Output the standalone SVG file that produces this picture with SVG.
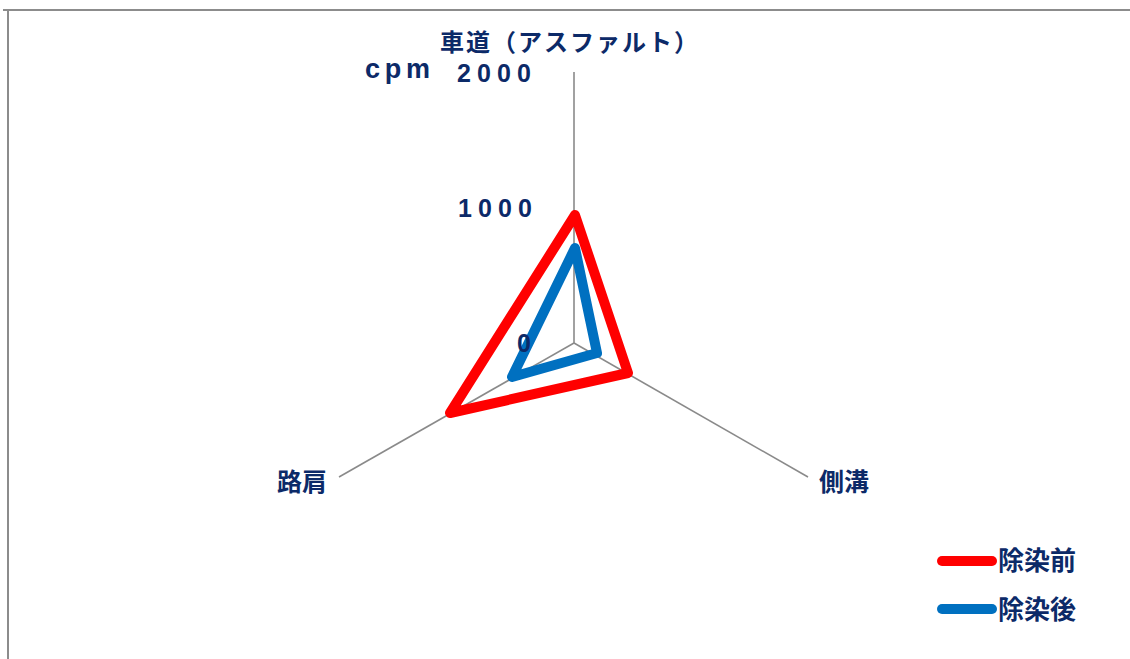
<svg xmlns="http://www.w3.org/2000/svg" width="1130" height="659" viewBox="0 0 1130 659">
<style>
.frame{stroke:#8c8c8c;stroke-width:2;fill:none}
.axis{stroke:#8a8a8a;stroke-width:1.6;fill:none}
.lbl{font-family:"Noto Sans CJK JP","Noto Sans",sans-serif;font-weight:bold;fill:#0c2a68}
.num{font-family:"Liberation Sans",Arial,sans-serif;font-weight:bold;fill:#0c2a68}
.red{stroke:#ff0000;stroke-width:10;fill:none;stroke-linejoin:round;stroke-linecap:round}
.blue{stroke:#0070c0;stroke-width:10;fill:none;stroke-linejoin:round;stroke-linecap:round}
</style>
<rect width="1130" height="659" fill="#ffffff"/>
<path class="frame" d="M3,10 H1130 M8,10 V659"/>
<g id="axes">
<line class="axis" x1="574" y1="343" x2="574" y2="72"/>
<line class="axis" x1="574" y1="343" x2="808" y2="477"/>
<line class="axis" x1="574" y1="343" x2="339" y2="477"/>
</g>
<g id="series">
<polygon class="red" points="575,215 628,373 450,413"/>
<polygon class="blue" points="575,248 597,353 512,377"/>
</g>
<g id="scale">
<text class="num" x="365" y="78" font-size="27" textLength="65" lengthAdjust="spacing">cpm</text>
<text class="num" x="457" y="82" font-size="25" textLength="74" lengthAdjust="spacing">2000</text>
<text class="num" x="458" y="217" font-size="25" textLength="74" lengthAdjust="spacing">1000</text>
<text class="num" x="517" y="352" font-size="25">0</text>
</g>
<g id="node-top"><text class="lbl" x="440" y="51" font-size="24" textLength="258" lengthAdjust="spacing">車道（アスファルト）</text></g>
<g id="node-right"><text class="lbl" x="819" y="491" font-size="25">側溝</text></g>
<g id="node-left"><text class="lbl" x="277" y="491" font-size="25">路肩</text></g>
<g id="legend">
<line class="red" x1="942" y1="561" x2="992" y2="561"/>
<text class="lbl" x="998" y="570" font-size="26">除染前</text>
<line class="blue" x1="942" y1="609" x2="992" y2="609"/>
<text class="lbl" x="998" y="619" font-size="26">除染後</text>
</g>
</svg>
